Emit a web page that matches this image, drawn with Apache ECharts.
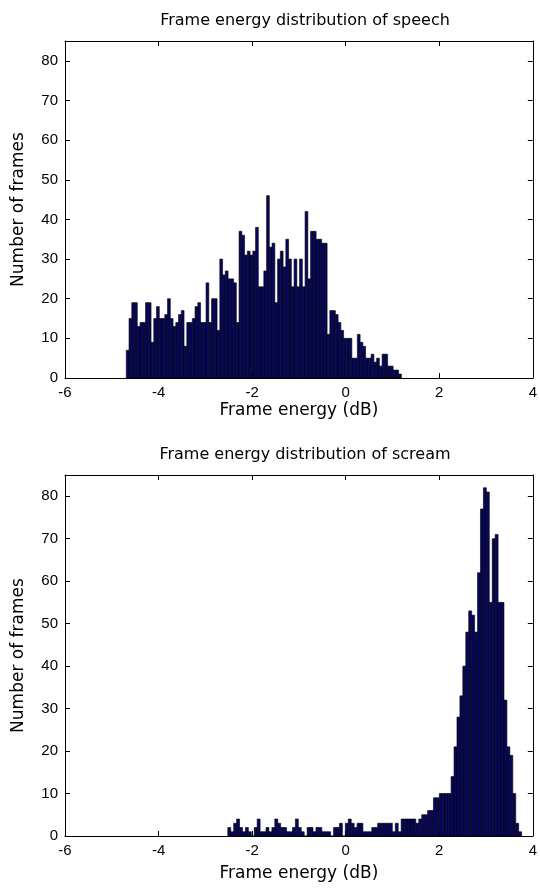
<!DOCTYPE html>
<html>
<head>
<meta charset="utf-8">
<script src="https://cdn.jsdelivr.net/npm/echarts@6/dist/echarts.min.js"></script>
<style>
  html, body { margin: 0; padding: 0; background: #fff; }
  #chart { width: 540px; height: 890px; }
</style>
</head>
<body>
<div id="chart"></div>
<script>
// histogram counts (100 bins each)
var speechCounts = [
  7, 15, 19, 19, 13, 14, 14, 19, 19, 9,
  15, 18, 15, 15, 16, 20, 15, 13, 14, 16,
  17, 8, 14, 14, 15, 18, 19, 14, 14, 24,
  14, 20, 20, 12, 30, 26, 27, 25, 25, 24,
  14, 37, 36, 31, 32, 31, 32, 38, 23, 23,
  27, 46, 33, 34, 19, 30, 32, 28, 35, 30,
  23, 30, 23, 30, 23, 42, 25, 37, 37, 35,
  35, 34, 34, 11, 17, 17, 16, 14, 12, 10,
  10, 10, 5, 5, 11, 9, 8, 5, 5, 6,
  4, 5, 3, 6, 6, 3, 3, 2, 2, 1
];
var screamCounts = [
  2, 1, 3, 4, 2, 1, 2, 1, 0, 2,
  4, 1, 1, 2, 1, 2, 4, 3, 2, 2,
  1, 1, 2, 4, 2, 1, 0, 2, 2, 1,
  2, 2, 1, 1, 1, 0, 2, 2, 3, 0,
  3, 4, 3, 2, 3, 3, 1, 1, 1, 2,
  2, 3, 3, 3, 3, 3, 1, 3, 1, 4,
  4, 4, 4, 4, 3, 4, 5, 5, 6, 6,
  9, 9, 10, 10, 10, 10, 14, 21, 28, 33,
  40, 48, 53, 52, 48, 62, 77, 82, 81, 55,
  70, 71, 55, 55, 32, 21, 19, 10, 3, 1
];
var speechRange = [-4.69, 1.19];
var screamRange = [-2.52, 3.76];
var titles = ['Frame energy distribution of speech', 'Frame energy distribution of scream'];
var xName = 'Frame energy (dB)';
var yName = 'Number of frames';

function toBins(counts, range) {
  var w = (range[1] - range[0]) / counts.length;
  return counts.map(function(c, i) {
    return [range[0] + i * w, range[0] + (i + 1) * w, c];
  });
}

var tickFont = 'Liberation Sans, Arial, sans-serif';
var textFont = 'DejaVu Sans, sans-serif';
var ink = '#000';
var barFill = '#06065e';

function renderBar(params, api) {
  var p0 = api.coord([api.value(0), api.value(2)]);
  var p1 = api.coord([api.value(1), 0]);
  return {
    type: 'rect',
    shape: { x: p0[0], y: p0[1], width: p1[0] - p0[0], height: p1[1] - p0[1] },
    style: { fill: barFill, stroke: '#000', lineWidth: 0.6 }
  };
}

function xAxisPair(gi, gap) {
  return [{
    type: 'value', gridIndex: gi, position: 'bottom', min: -6, max: 4, interval: 2,
    name: xName, nameLocation: 'middle', nameGap: gap,
    nameTextStyle: { color: ink, fontFamily: textFont, fontSize: 17 },
    axisLine: { onZero: false, lineStyle: { color: ink, width: 1 } },
    axisTick: { inside: true, length: 5, lineStyle: { color: ink } },
    axisLabel: { color: ink, fontFamily: tickFont, fontSize: 15, margin: 7 },
    splitLine: { show: false }
  }, {
    type: 'value', gridIndex: gi, position: 'top', min: -6, max: 4, interval: 2,
    axisLine: { onZero: false, lineStyle: { color: ink, width: 1 } },
    axisTick: { inside: true, length: 5, lineStyle: { color: ink } },
    axisLabel: { show: false },
    splitLine: { show: false }
  }];
}

function yAxisPair(gi) {
  return [{
    type: 'value', gridIndex: gi, position: 'left', min: 0, max: 85, interval: 10,
    name: yName, nameLocation: 'middle', nameGap: 38, nameRotate: 90,
    nameTextStyle: { color: ink, fontFamily: textFont, fontSize: 17 },
    axisLine: { show: true, onZero: false, lineStyle: { color: ink, width: 1 } },
    axisTick: { show: true, inside: true, length: 5, lineStyle: { color: ink } },
    axisLabel: { color: ink, fontFamily: tickFont, fontSize: 15, margin: 7, showMaxLabel: false },
    splitLine: { show: false }
  }, {
    type: 'value', gridIndex: gi, position: 'right', min: 0, max: 85, interval: 10,
    axisLine: { show: true, onZero: false, lineStyle: { color: ink, width: 1 } },
    axisTick: { show: true, inside: true, length: 5, lineStyle: { color: ink } },
    axisLabel: { show: false },
    splitLine: { show: false }
  }];
}

var chart = echarts.init(document.getElementById('chart'), null, { renderer: 'canvas' });
chart.setOption({
  animation: false,
  backgroundColor: '#fff',
  title: [
    { text: titles[0], left: 300, top: 8, textAlign: 'center',
      textStyle: { color: ink, fontFamily: textFont, fontSize: 16, fontWeight: 'normal' } },
    { text: titles[1], left: 300, top: 442, textAlign: 'center',
      textStyle: { color: ink, fontFamily: textFont, fontSize: 16, fontWeight: 'normal' } }
  ],
  grid: [
    { left: 65, right: 4, top: 41, height: 337 },
    { left: 65, right: 4, top: 475, height: 361 }
  ],
  xAxis: xAxisPair(0, 24).concat(xAxisPair(1, 29)),
  yAxis: yAxisPair(0).concat(yAxisPair(1)),
  series: [
    { type: 'custom', xAxisIndex: 0, yAxisIndex: 0, renderItem: renderBar,
      encode: { x: [0, 1], y: 2 }, data: toBins(speechCounts, speechRange) },
    { type: 'custom', xAxisIndex: 2, yAxisIndex: 2, renderItem: renderBar,
      encode: { x: [0, 1], y: 2 }, data: toBins(screamCounts, screamRange) }
  ]
});
</script>
</body>
</html>
